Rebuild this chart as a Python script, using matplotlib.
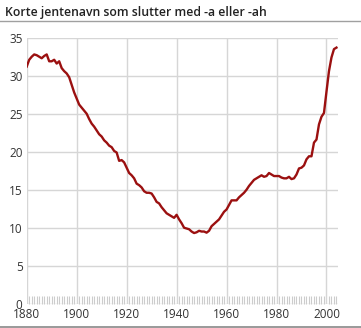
import numpy as np
import matplotlib.pyplot as plt
from matplotlib.ticker import MultipleLocator
from matplotlib.lines import Line2D

title = "Korte jentenavn som slutter med -a eller -ah"

years = np.arange(1880, 2005)
share = [
    31.2, 32.1, 32.5, 32.8, 32.7, 32.5, 32.3, 32.6, 32.8, 31.9,  # 1880-1889
    31.9, 32.1, 31.6, 31.9, 31.0, 30.6, 30.3, 29.8, 28.8, 27.8,  # 1890-1899
    27.0, 26.2, 25.8, 25.4, 25.0, 24.3, 23.7, 23.3, 22.8, 22.3,  # 1900-1909
    22.0, 21.5, 21.2, 20.8, 20.6, 20.1, 19.9, 18.8, 18.9, 18.6,  # 1910-1919
    17.9, 17.2, 16.9, 16.5, 15.8, 15.6, 15.3, 14.8, 14.6, 14.6,  # 1920-1929
    14.5, 14.0, 13.4, 13.2, 12.7, 12.3, 11.9, 11.7, 11.5, 11.3,  # 1930-1939
    11.7, 11.1, 10.6, 10.0, 9.9, 9.8, 9.5, 9.3, 9.4, 9.6,        # 1940-1949
    9.5, 9.5, 9.35, 9.6, 10.2, 10.5, 10.8, 11.1, 11.6, 12.1,     # 1950-1959
    12.4, 13.0, 13.6, 13.6, 13.6, 14.0, 14.3, 14.6, 15.0, 15.5,  # 1960-1969
    15.9, 16.3, 16.5, 16.7, 16.9, 16.7, 16.8, 17.2, 17.0, 16.8,  # 1970-1979
    16.8, 16.8, 16.6, 16.5, 16.5, 16.7, 16.4, 16.5, 17.0, 17.8,  # 1980-1989
    17.9, 18.2, 19.0, 19.4, 19.4, 21.2, 21.6, 23.6, 24.6, 25.1,  # 1990-1999
    27.9, 30.6, 32.4, 33.5, 33.7,                                # 2000-2004
]

x_ticks = [1880, 1900, 1920, 1940, 1960, 1980, 2000]
y_ticks = [0, 5, 10, 15, 20, 25, 30, 35]

plt.rcParams['font.family'] = ['Open Sans', 'DejaVu Sans']

fig = plt.figure(figsize=(3.61, 3.28), dpi=100)
ax = fig.add_axes([0.074, 0.074, 0.8615, 0.811])

ax.plot(years, share, color='#9b1010', linewidth=1.7, solid_joinstyle='round')

ax.set_xlim(1880, 2004.5)
ax.set_ylim(0, 35)
ax.set_xticks(x_ticks)
ax.set_yticks(y_ticks)
ax.xaxis.set_minor_locator(MultipleLocator(1))

ax.grid(True, which='major', color='#d6d6d6', linewidth=1)
ax.set_axisbelow(True)
for s in ax.spines.values():
    s.set_visible(False)

ax.tick_params(axis='both', which='major', length=0, labelsize=8.5,
               labelcolor='#333333', pad=3)
ax.tick_params(axis='x', which='minor', direction='in', length=6,
               color='#cccccc', width=0.8)
ax.tick_params(axis='x', which='major', pad=3.2)
# lift the "0" label a touch so it clears "1880"
ax.get_yticklabels()[0].set_verticalalignment('center_baseline')

fig.text(0.014, 0.963, title, fontsize=8.8, fontweight='semibold',
         color='#222222', va='center', ha='left')
fig.add_artist(Line2D([0, 1], [1 - 21 / 328, 1 - 21 / 328], color='#a0a0a0',
                      linewidth=1, transform=fig.transFigure))
fig.add_artist(Line2D([0, 1], [1 - 326.5 / 328, 1 - 326.5 / 328], color='#888888',
                      linewidth=1.2, transform=fig.transFigure))

fig.savefig('out.png', dpi=100)
